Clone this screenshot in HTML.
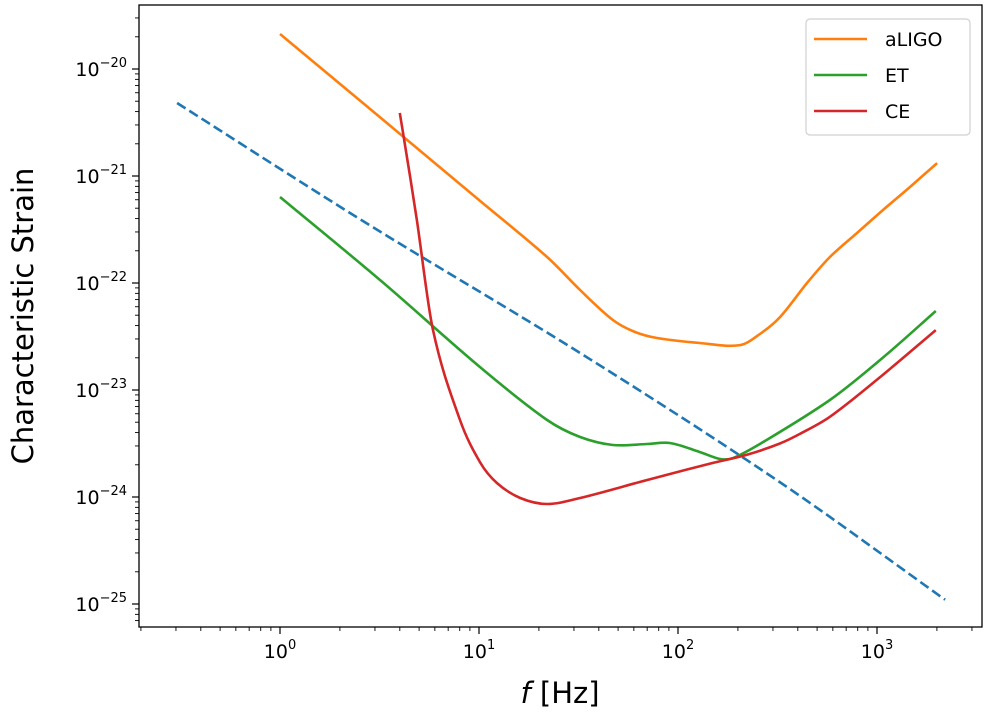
<!DOCTYPE html>
<html><head><meta charset="utf-8"><style>
body{margin:0;background:#fff;}
svg{display:block;font-family:"DejaVu Sans","Liberation Sans",sans-serif;}
</style></head><body>
<svg id="chart" width="990" height="716"></svg>
<script>
const bhFreq=[0.304,2.61,32.2,324,2200];
const bhStrain=[-20.318,-21.421,-22.654,-23.86,-24.96];
const ligoFreq=[1,3,10,22,32.2,47.1,60.8,78.4,129,205,258,326,445,580,793,1072,1465,2004];
const ligoStrain=[-19.673,-20.411,-21.224,-21.757,-22.065,-22.346,-22.458,-22.514,-22.561,-22.58,-22.477,-22.318,-22.0,-21.757,-21.533,-21.318,-21.103,-20.879];
const etFreq=[1,3.18,10.1,22,32.2,47.1,70,91,129,163,189,268,580,1037,1975];
const etStrain=[-21.196,-21.972,-22.785,-23.28,-23.439,-23.514,-23.505,-23.495,-23.58,-23.645,-23.636,-23.486,-23.093,-22.72,-22.262];
const ceFreq=[4,4.5,4.88,5.87,8.03,10.1,12.3,16.1,22,32.2,70,149,221,325,410,580,1037,1975];
const ceStrain=[-20.41,-21.0,-21.42,-22.439,-23.28,-23.673,-23.869,-24.009,-24.065,-24.009,-23.841,-23.682,-23.607,-23.5,-23.41,-23.25,-22.879,-22.44];
const xTickExps=[0,1,2,3];
const yTickExps=[-20,-21,-22,-23,-24,-25];

const NS='http://www.w3.org/2000/svg';
const svg=document.getElementById('chart');
const L=139,R=982,T=5,B=627;
const X=f=>280+199*Math.log10(f);
const Y=e=>69+107*(-20-e);
function mk(tag,attrs,parent){const el=document.createElementNS(NS,tag);for(const k in attrs)el.setAttribute(k,attrs[k]);(parent||svg).appendChild(el);return el;}

const axes=mk('g',{});


for(let d=-1;d<=3;d++){for(let m=1;m<10;m++){const x=X(m*Math.pow(10,d));if(x<L||x>R)continue;
 const t=mk('line',{x1:x,x2:x,y1:B,y2:B+(m==1?7:4),stroke:'#000','stroke-width':m==1?1.2:0.9},axes);
 }}
for(let e=-26;e<=-19;e++){for(let m=1;m<10;m++){const y=Y(e+Math.log10(m));if(y<T||y>B)continue;
 const t=mk('line',{x1:L-(m==1?7:4),x2:L,y1:y,y2:y,stroke:'#000','stroke-width':m==1?1.2:0.9},axes);
 }}
xTickExps.forEach(e=>{const t=mk('text',{x:X(Math.pow(10,e)),y:B+31,'text-anchor':'middle','font-size':19},axes);
 
 t.innerHTML='10<tspan dy="-9" font-size="13">'+e+'</tspan>';});
yTickExps.forEach(e=>{const t=mk('text',{x:L-12,y:Y(e)+7,'text-anchor':'end','font-size':19},axes);
 
 t.innerHTML='10<tspan dy="-9" font-size="13">\u2212'+(-e)+'</tspan>';});

const cp=mk('clipPath',{id:'cp'});mk('rect',{x:L,y:T,width:R-L,height:B-T},cp);
function smoothPath(p){let d='M'+p[0][0].toFixed(1)+','+p[0][1].toFixed(1);
 for(let i=0;i<p.length-1;i++){const p0=p[Math.max(0,i-1)],p1=p[i],p2=p[i+1],p3=p[Math.min(p.length-1,i+2)];
  const h=p2[0]-p1[0];
  const s1=(p2[1]-p0[1])/((p2[0]-p0[0])||1), s2=(p3[1]-p1[1])/((p3[0]-p1[0])||1);
  const c1=[p1[0]+h/3,p1[1]+s1*h/3],c2=[p2[0]-h/3,p2[1]-s2*h/3];
  d+=' C'+c1.map(v=>v.toFixed(1)).join(',')+' '+c2.map(v=>v.toFixed(1)).join(',')+' '+p2[0].toFixed(1)+','+p2[1].toFixed(1);}
 return d;}
function series(fs,vs,color,name,dash){const pts=fs.map((f,i)=>[X(f),Y(vs[i])]);
 const p=mk('path',{d:smoothPath(pts),fill:'none',stroke:color,'stroke-width':2.6,'stroke-linejoin':'round','clip-path':'url(#cp)'});
 if(dash)p.setAttribute('stroke-dasharray',dash);
 }
series(bhFreq,bhStrain,'#1f77b4','signal-dashed-line','10,4.5');
series(ligoFreq,ligoStrain,'#ff7f0e','aligo-line');
series(etFreq,etStrain,'#2ca02c','et-line');
series(ceFreq,ceStrain,'#d62728','ce-line');

const fr=mk('rect',{x:L,y:T,width:R-L,height:B-T,fill:'none',stroke:'#000','stroke-width':1.3});


const xl=mk('text',{x:560,y:703,'text-anchor':'middle','font-size':29});

xl.innerHTML='<tspan font-style="italic">f</tspan> [Hz]';
const yl=mk('text',{x:0,y:0,'text-anchor':'middle','font-size':29,transform:'translate(33,316) rotate(-90)'});

yl.textContent='Characteristic Strain';

const lg=mk('g',{});

mk('rect',{x:806,y:19,width:164,height:116,rx:4,fill:'#fff',stroke:'#d0d0d0','stroke-width':1.2},lg);
[['aLIGO','#ff7f0e'],['ET','#2ca02c'],['CE','#d62728']].forEach((e,i)=>{
 const g=mk('g',{},lg);
 const y=39+36*i;
 mk('line',{x1:814,x2:867,y1:y,y2:y,stroke:e[1],'stroke-width':2.6},g);
 const t=mk('text',{x:885,y:y+7,'font-size':19},g);t.textContent=e[0];});
</script>
</body></html>
